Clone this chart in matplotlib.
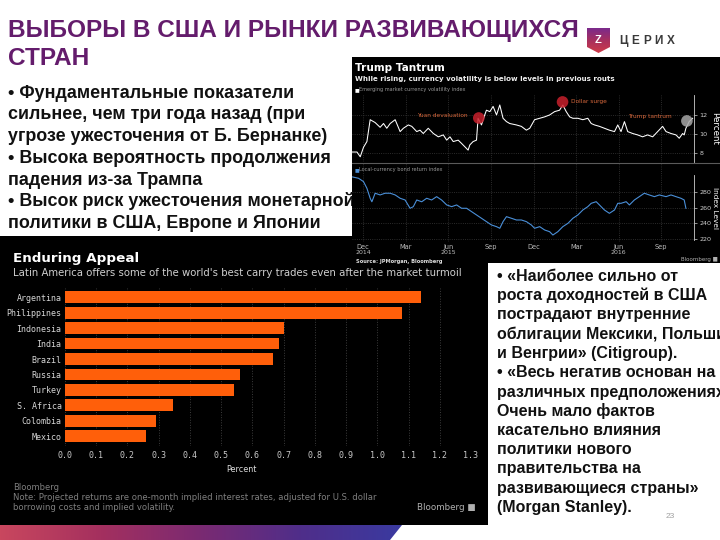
import numpy as np
import matplotlib
matplotlib.use("Agg")
import matplotlib.pyplot as plt
from matplotlib.patches import Polygon, Rectangle
from matplotlib.colors import LinearSegmentedColormap
import matplotlib.transforms as mtransforms

W, H = 720, 540

# ---------------- data ----------------
countries = ["Argentina", "Philippines", "Indonesia", "India", "Brazil",
             "Russia", "Turkey", "S. Africa", "Colombia", "Mexico"]
carry_returns = [1.14, 1.08, 0.70, 0.685, 0.665, 0.56, 0.54, 0.345, 0.29, 0.26]
percent_ticks = [0.0, 0.1, 0.2, 0.3, 0.4, 0.5, 0.6, 0.7, 0.8, 0.9, 1.0, 1.1, 1.2, 1.3]

# months since 1 Dec 2014
vol_months = [-0.79, -0.44, -0.21, 0.02, 0.26, 0.49, 0.84, 1.19, 1.43, 1.66, 1.90, 2.25,
              2.60, 2.83, 3.18, 3.42, 3.77, 4.00, 4.23, 4.58, 4.94, 5.29, 5.64, 5.88,
              6.11, 6.34, 6.69, 6.93, 7.16, 7.39, 7.51, 7.74, 7.98, 8.09, 8.33, 8.45,
              8.56, 8.68, 8.92, 9.15, 9.39, 9.62, 9.85, 10.09, 10.32, 10.79, 11.14, 11.49,
              11.73, 12.07, 12.43, 12.78, 13.13, 13.48, 13.83, 14.06, 14.30, 14.54, 14.77,
              15.12, 15.47, 15.82, 16.06, 16.29, 16.64, 16.99, 17.34, 17.70, 17.93, 18.16,
              18.40, 18.63, 18.98, 19.33, 19.68, 20.03, 20.39, 20.74, 21.09, 21.33, 21.68,
              22.03, 22.26, 22.50, 22.61, 22.73, 22.96, 23.20]
vol_values = [8.1, 8.1, 7.6, 8.6, 9.2, 11.5, 11.2, 10.7, 11.1, 10.6, 11.1, 11.5,
              10.25, 10.6, 10.95, 10.8, 10.25, 10.4, 10.05, 10.6, 10.05, 9.7, 9.9, 9.35,
              9.7, 9.2, 9.35, 9.0, 8.65, 8.3, 8.85, 9.2, 9.35, 11.65, 10.95, 11.5,
              12.0, 12.5, 12.35, 12.9, 12.0, 13.05, 11.65, 11.3, 11.1, 10.95, 10.8, 10.4,
              10.6, 11.5, 11.65, 11.8, 12.0, 12.35, 12.5, 13.05, 12.35, 11.8, 11.65,
              11.65, 11.5, 11.65, 11.1, 10.95, 10.8, 10.6, 10.4, 10.25, 10.95, 10.25,
              11.3, 10.25, 10.05, 9.9, 9.7, 9.9, 9.7, 10.25, 10.8, 10.25, 10.05,
              9.9, 9.55, 10.05, 9.9, 10.6, 11.3, 11.65]

bond_months = [-0.75, -0.33, 0.02, 0.26, 0.49, 0.61, 0.84, 1.19, 1.54, 1.90, 2.25, 2.60,
               2.95, 3.30, 3.53, 3.77, 4.12, 4.47, 4.82, 5.17, 5.52, 5.88, 6.23, 6.58,
               6.93, 7.28, 7.63, 7.98, 8.33, 8.68, 9.03, 9.39, 9.62, 9.85, 10.09, 10.44,
               10.79, 11.14, 11.49, 11.84, 12.07, 12.43, 12.78, 13.13, 13.36, 13.71, 14.06,
               14.42, 14.77, 15.12, 15.47, 15.82, 16.06, 16.41, 16.64, 16.99, 17.34, 17.70,
               17.93, 18.16, 18.52, 18.75, 19.10, 19.45, 19.80, 20.15, 20.51, 20.86, 21.33,
               21.68, 22.03, 22.38, 22.61, 22.73]
bond_values = [300.0, 298.3, 294.0, 285.4, 272.5, 268.0, 279.0, 276.8, 279.0, 279.0, 276.8, 272.5,
               270.3, 259.6, 261.7, 270.3, 268.0, 272.5, 270.3, 274.6, 270.3, 263.9, 261.7, 263.9,
               259.6, 259.6, 255.3, 251.0, 246.7, 242.4, 238.1, 235.9, 233.8, 242.4, 248.8, 246.7,
               244.5, 244.5, 242.4, 238.1, 233.8, 235.9, 231.6, 229.4, 225.1, 229.4, 235.9,
               240.2, 246.7, 251.0, 257.4, 261.7, 266.0, 268.1, 263.9, 257.4, 253.1, 257.4,
               266.0, 266.0, 268.1, 263.9, 270.3, 274.6, 279.0, 276.8, 274.6, 276.8, 274.6,
               276.8, 274.6, 272.5, 270.3, 259.6]

month_tick_pos = [0, 3, 6, 9, 12, 15, 18, 21]
month_tick_labels = ["Dec", "Mar", "Jun", "Sep", "Dec", "Mar", "Jun", "Sep"]
year_tick_pos = [0, 6, 18]
year_tick_labels = ["2014", "2015", "2016"]
vol_ticks = [8, 10, 12]
bond_ticks = [220, 240, 260, 280]

event_labels = ["Yuan devaluation", "Dollar surge", "Trump tantrum"]
event_months = [8.14, 14.04, 22.8]
event_values = [11.68, 13.37, 11.37]
event_colors = ["#c8202c", "#c8202c", "#a8a8a8"]

title_lines = ["ВЫБОРЫ В США И РЫНКИ РАЗВИВАЮЩИХСЯ", "СТРАН"]
left_lines = ["• Фундаментальные показатели",
              "сильнее, чем три года назад (при",
              "угрозе ужесточения от Б. Бернанке)",
              "• Высока вероятность продолжения",
              "падения из-за Трампа",
              "• Высок риск ужесточения монетарной",
              "политики в США, Европе и Японии"]
right_lines = ["• «Наиболее сильно от",
               "роста доходностей в США",
               "пострадают внутренние",
               "облигации Мексики, Польши",
               "и Венгрии» (Citigroup).",
               "• «Весь негатив основан на",
               "различных предположениях.",
               "Очень мало фактов",
               "касательно влияния",
               "политики нового",
               "правительства на",
               "развивающиеся страны»",
               "(Morgan Stanley)."]

# ---------------- helpers ----------------
def px(x, y, w, h):
    return [x / W, 1 - (y + h) / H, w / W, h / H]

def panel(x, y, w, h, z, color=None):
    ax = fig.add_axes(px(x, y, w, h), zorder=z)
    ax.set_xlim(x, x + w)
    ax.set_ylim(y + h, y)
    ax.axis("off")
    if color is not None:
        ax.add_patch(Rectangle((x, y), w, h, facecolor=color, edgecolor="none"))
    return ax

SANS = "Liberation Sans"
fig = plt.figure(figsize=(7.2, 5.4), dpi=100)

# ---------------- slide background ----------------
ax0 = panel(0, 0, W, H, 0, color="white")
purple = "#641c6c"
ax0.text(8, 37, title_lines[0], fontsize=17.6, fontweight="bold", color=purple,
         family=SANS, va="baseline")
ax0.text(8, 65, title_lines[1], fontsize=17.6, fontweight="bold", color=purple,
         family=SANS, va="baseline")
for i, line in enumerate(left_lines):
    ax0.text(8, 97.5 + i * 21.8, line, fontsize=12.9, fontweight="bold", color="#111111",
             family=SANS, va="baseline")
for i, line in enumerate(right_lines):
    ax0.text(497, 281 + i * 19.25, line, fontsize=11.5, fontweight="bold", color="#111111",
             family=SANS, va="baseline")
ax0.text(670, 516, "23", fontsize=6, color="#a0a0a0", family=SANS, va="center", ha="center")

# logo
grad = np.linspace(0, 1, 256).reshape(-1, 1)
shield_cmap = LinearSegmentedColormap.from_list("sh", ["#7a2a8c", "#a8305e", "#cf3a48"])
im = ax0.imshow(grad, extent=(587, 610, 53, 28), cmap=shield_cmap, aspect="auto", zorder=2)
shield = Polygon([[587, 28], [610, 28], [610, 47], [598.5, 53], [587, 47]], closed=True,
                 transform=ax0.transData)
im.set_clip_path(shield)
ax0.text(598.5, 40, "Z", fontsize=8, fontweight="bold", color="white", family=SANS,
         ha="center", va="center", zorder=3)
for i, ch in enumerate("ЦЕРИХ"):
    ax0.text(624 + i * 11.6, 41, ch, fontsize=8.5, fontweight="bold", color="#3a3a3a",
             family=SANS, ha="center", va="center")

# bottom gradient strip
grad2 = np.linspace(0, 1, 256).reshape(1, -1)
strip_cmap = LinearSegmentedColormap.from_list("st", ["#c9475e", "#a4305f", "#7a2a72", "#4f2e8a", "#3a3aa0"])
im2 = ax0.imshow(grad2, extent=(0, 402, 540, 525), cmap=strip_cmap, aspect="auto", zorder=2)
strip = Polygon([[0, 525], [402, 525], [390, 540], [0, 540]], closed=True, transform=ax0.transData)
im2.set_clip_path(strip)
ax0.set_xlim(0, W)
ax0.set_ylim(H, 0)

# ---------------- Enduring Appeal panel ----------------
axb_bg = panel(0, 236, 488, 289, 1, color="black")
axb_bg.text(13, 262, "Enduring Appeal", fontsize=9.7, fontweight="bold", color="white",
            family="DejaVu Sans", va="baseline")
axb_bg.text(13, 276.5, "Latin America offers some of the world's best carry trades even after the market turmoil",
            fontsize=7.3, color="#cfcfcf", family="DejaVu Sans", va="baseline")
axb_bg.text(241, 469, "Percent", fontsize=5.8, color="#dddddd", family="DejaVu Sans",
            ha="center", va="center")
axb_bg.text(13, 488, "Bloomberg", fontsize=6, color="#7f7f7f", family="DejaVu Sans", va="center")
axb_bg.text(13, 498, "Note: Projected returns are one-month implied interest rates, adjusted for U.S. dollar",
            fontsize=6.1, color="#7f7f7f", family="DejaVu Sans", va="center")
axb_bg.text(13, 508, "borrowing costs and implied volatility.",
            fontsize=6.1, color="#7f7f7f", family="DejaVu Sans", va="center")
axb_bg.text(476, 507, "Bloomberg \u25a0", fontsize=6.3, color="#b0b0b0", family="DejaVu Sans",
            ha="right", va="center")

axb = fig.add_axes(px(65, 288, 406, 157.5), zorder=2)
axb.set_facecolor("none")
ypos = np.arange(len(countries))
axb.barh(ypos, carry_returns, height=0.76, color="#ff5f0a", zorder=3)
axb.set_xlim(0, 1.3)
axb.set_ylim(len(countries) - 0.4, -0.6)
axb.set_yticks(ypos)
axb.set_yticklabels(countries, family="DejaVu Sans Mono", fontsize=6, color="#d6d6d6")
axb.set_xticks(percent_ticks)
axb.set_xticklabels([f"{t:.1f}" for t in percent_ticks], family="DejaVu Sans Mono",
                    fontsize=6, color="#c8c8c8")
axb.tick_params(axis="both", length=0)
axb.tick_params(axis="y", pad=2.5)
axb.tick_params(axis="x", pad=4)
for s in axb.spines.values():
    s.set_visible(False)
axb.grid(axis="x", color="#3c3c3c", linestyle=":", linewidth=0.7, zorder=0)
axb.set_axisbelow(True)

# ---------------- Trump Tantrum panel ----------------
axt_bg = panel(352, 57, 368, 206, 3, color="black")
axt_bg.text(355, 71, "Trump Tantrum", fontsize=7.6, fontweight="bold", color="white",
            family="DejaVu Sans", va="baseline")
axt_bg.text(355, 81, "While rising, currency volatility is below levels in previous routs",
            fontsize=5.15, fontweight="bold", color="#eeeeee", family="DejaVu Sans", va="baseline")
axt_bg.text(355, 89.7, "\u25a0", fontsize=3.6, color="white", family="DejaVu Sans", va="center")
axt_bg.text(359, 89.7, "Emerging market currency volatility index", fontsize=3.6,
            color="#9a9a9a", family="DejaVu Sans", va="center")
axt_bg.text(355, 169.3, "\u25a0", fontsize=3.6, color="#4a8fd8", family="DejaVu Sans", va="center")
axt_bg.text(359, 169.3, "Local-currency bond return index", fontsize=3.6,
            color="#9a9a9a", family="DejaVu Sans", va="center")
axt_bg.plot([352, 720], [162.5, 162.5], color="#5a5a5a", linewidth=0.8)
axt_bg.text(356, 261, "Source: JPMorgan, Bloomberg", fontsize=3.7, fontweight="bold",
            color="#dddddd", family="DejaVu Sans", va="center")
axt_bg.text(718, 259, "Bloomberg \u25a0", fontsize=4, color="#b0b0b0", family="DejaVu Sans",
            ha="right", va="center")
axt_bg.text(715, 128, "Percent", fontsize=6.3, color="white", family="DejaVu Sans",
            rotation=270, ha="center", va="center")
axt_bg.text(715, 208, "Index Level", fontsize=5.3, color="white", family="DejaVu Sans",
            rotation=270, ha="center", va="center")

xlim_t = (-0.79, 23.3)

axv = fig.add_axes(px(352, 95, 342, 67), zorder=4)
axv.set_facecolor("none")
axv.plot(vol_months, vol_values, color="white", linewidth=0.75, zorder=3)
axv.set_xlim(*xlim_t)
axv.set_ylim(7.05, 14.1)
axv.yaxis.tick_right()
axv.set_yticks(vol_ticks)
axv.set_yticklabels([str(t) for t in vol_ticks], fontsize=4.6, color="#cfcfcf")
axv.set_xticks(month_tick_pos)
axv.set_xticklabels([])
axv.tick_params(axis="x", length=0)
axv.tick_params(axis="y", length=2, width=0.5, color="#cccccc", pad=2)
for k, s in axv.spines.items():
    s.set_visible(k == "right")
axv.spines["right"].set_color("#cccccc")
axv.spines["right"].set_linewidth(0.6)
axv.grid(True, color="#3a3a3a", linestyle=":", linewidth=0.6)
axv.scatter(event_months, event_values, s=70, c=event_colors, alpha=0.85, zorder=4,
            edgecolors="none")
axv.annotate(event_labels[0], (event_months[0], event_values[0]), xytext=(-8, 2),
             textcoords="offset points", ha="right", va="center", fontsize=4.2,
             color="#d8683c", family="DejaVu Sans")
axv.annotate(event_labels[1], (event_months[1], event_values[1]), xytext=(6, 0),
             textcoords="offset points", ha="left", va="center", fontsize=4.2,
             color="#d8683c", family="DejaVu Sans")
axv.annotate(event_labels[2], (event_months[2], event_values[2]), xytext=(-11, 3),
             textcoords="offset points", ha="right", va="center", fontsize=4.2,
             color="#d8683c", family="DejaVu Sans")

axd = fig.add_axes(px(352, 163, 342, 79), zorder=5)
axd.set_facecolor("none")
axd.plot(bond_months, bond_values, color="#4a8fd8", linewidth=0.8, zorder=3)
axd.set_xlim(*xlim_t)
axd.set_ylim(216.1, 318)
axd.yaxis.tick_right()
axd.set_yticks(bond_ticks)
axd.set_yticklabels([str(t) for t in bond_ticks], fontsize=4.6, color="#cfcfcf")
axd.set_xticks(month_tick_pos)
axd.set_xticklabels(month_tick_labels, fontsize=4.8, color="#bdbdbd", family="DejaVu Sans")
axd.tick_params(axis="x", length=0, pad=1.5)
axd.tick_params(axis="y", length=2, width=0.5, color="#cccccc", pad=2)
for k, s in axd.spines.items():
    s.set_visible(k == "right")
axd.spines["right"].set_color("#cccccc")
axd.spines["right"].set_linewidth(0.6)
axd.spines["right"].set_bounds(218.5, 303)
axd.grid(True, color="#3a3a3a", linestyle=":", linewidth=0.6)
ytrans = mtransforms.blended_transform_factory(axd.transData, fig.transFigure)
for pos, lab in zip(year_tick_pos, year_tick_labels):
    axd.text(pos, 1 - 253 / H, lab, transform=ytrans, fontsize=4.5, color="#bdbdbd",
             ha="center", va="center", family="DejaVu Sans")

fig.savefig("out.png", dpi=100)
